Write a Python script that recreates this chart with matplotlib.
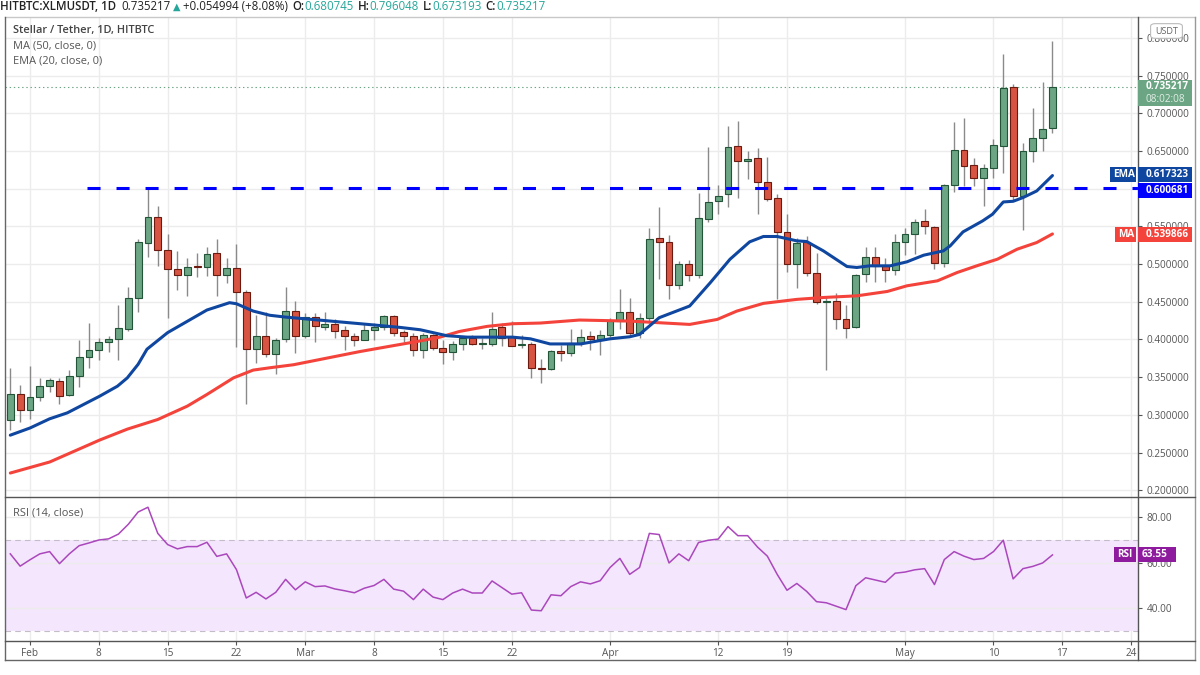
import matplotlib
matplotlib.use('Agg')
import matplotlib.pyplot as plt
import numpy as np
import pandas as pd
from matplotlib.patches import Rectangle, FancyBboxPatch
from matplotlib.lines import Line2D

plt.rcParams['font.family'] = ['Open Sans', 'DejaVu Sans']
plt.rcParams['lines.scale_dashes'] = False

# ---------------- data ----------------
start_date = pd.Timestamp('2021-01-30')
dates = pd.date_range(start_date, periods=107, freq='D')

opens = [0.293, 0.328, 0.307, 0.323, 0.338, 0.345, 0.326, 0.351, 0.377, 0.386,
         0.397, 0.401, 0.414, 0.455, 0.528, 0.563, 0.518, 0.494, 0.486, 0.4968,
         0.496, 0.515, 0.486, 0.495, 0.463, 0.387, 0.404, 0.380, 0.4004, 0.4376,
         0.4049, 0.430, 0.4164, 0.420, 0.412, 0.4049, 0.3996, 0.412, 0.4164, 0.4305,
         0.4093, 0.4049, 0.3863, 0.4058, 0.3885, 0.3827, 0.3942, 0.4018, 0.394, 0.3942,
         0.4164, 0.4031, 0.3925, 0.3942, 0.3622, 0.361, 0.384, 0.3814, 0.3956, 0.4044,
         0.4009, 0.4053, 0.4243, 0.4367, 0.4088, 0.4288, 0.5351, 0.5294, 0.4727, 0.5006,
         0.4855, 0.5595, 0.5839, 0.5927, 0.6566, 0.6362, 0.6406, 0.6083, 0.587, 0.5418,
         0.4997, 0.5294, 0.4886, 0.4496, 0.4512, 0.4267, 0.4159, 0.4865, 0.5095, 0.4976,
         0.4923, 0.5298, 0.5395, 0.5572, 0.5497, 0.502, 0.6044, 0.6508, 0.6309, 0.6146,
         0.6278, 0.6565, 0.7347, 0.5903, 0.6499, 0.6675, 0.680745]
highs = [0.362, 0.339, 0.365, 0.349, 0.349, 0.349, 0.360, 0.399, 0.422, 0.402,
         0.405, 0.445, 0.4695, 0.5336, 0.600, 0.577, 0.540, 0.517, 0.508, 0.515,
         0.5226, 0.533, 0.5075, 0.526, 0.465, 0.433, 0.437, 0.402, 0.4695, 0.4504,
         0.435, 0.435, 0.437, 0.427, 0.4173, 0.4084, 0.421, 0.4217, 0.433, 0.432,
         0.4128, 0.408, 0.408, 0.4075, 0.3996, 0.398, 0.4049, 0.4062, 0.4018, 0.437,
         0.4217, 0.425, 0.406, 0.397, 0.3734, 0.3858, 0.393, 0.4133, 0.4133, 0.411,
         0.413, 0.4288, 0.4673, 0.4554, 0.4354, 0.5484, 0.5759, 0.5382, 0.5041, 0.5054,
         0.5936, 0.6548, 0.6047, 0.6827, 0.6894, 0.6495, 0.6535, 0.6424, 0.5927, 0.5662,
         0.5351, 0.5374, 0.5152, 0.4578, 0.4611, 0.4455, 0.4865, 0.5232, 0.5219, 0.5086,
         0.5395, 0.5475, 0.5594, 0.5735, 0.5506, 0.6057, 0.6887, 0.6932, 0.641, 0.6322,
         0.6653, 0.7779, 0.7382, 0.66, 0.7073, 0.7417, 0.796048]
lows = [0.280, 0.290, 0.294, 0.318, 0.330, 0.314, 0.325, 0.337, 0.362, 0.373,
        0.383, 0.373, 0.411, 0.436, 0.509, 0.497, 0.429, 0.466, 0.4575, 0.483,
        0.484, 0.458, 0.475, 0.390, 0.315, 0.369, 0.3765, 0.3544, 0.397, 0.3818,
        0.4018, 0.397, 0.412, 0.4018, 0.3854, 0.3916, 0.3996, 0.3996, 0.4128, 0.404,
        0.396, 0.3774, 0.3752, 0.3863, 0.3677, 0.373, 0.3863, 0.3929, 0.387, 0.3916,
        0.3916, 0.3907, 0.3885, 0.349, 0.3416, 0.360, 0.371, 0.3778, 0.391, 0.3866,
        0.3787, 0.403, 0.4132, 0.4053, 0.4022, 0.4221, 0.4797, 0.4531, 0.4664, 0.4775,
        0.4819, 0.5551, 0.5662, 0.575, 0.587, 0.6127, 0.5662, 0.583, 0.4531, 0.4895,
        0.4687, 0.4842, 0.4465, 0.359, 0.4132, 0.4022, 0.415, 0.4755, 0.4755, 0.4755,
        0.4852, 0.5117, 0.5130, 0.5395, 0.494, 0.4954, 0.5956, 0.6035, 0.6035, 0.577,
        0.6146, 0.6203, 0.5837, 0.5453, 0.6353, 0.6499, 0.673193]
closes = [0.328, 0.307, 0.323, 0.338, 0.3456, 0.3256, 0.352, 0.377, 0.386, 0.397,
          0.401, 0.415, 0.455, 0.529, 0.563, 0.518, 0.494, 0.486, 0.4956, 0.4962,
          0.513, 0.486, 0.495, 0.463, 0.387, 0.404, 0.380, 0.3996, 0.4376, 0.4049,
          0.4292, 0.4173, 0.420, 0.4106, 0.4049, 0.3996, 0.412, 0.4168, 0.4305, 0.4084,
          0.404, 0.3863, 0.4058, 0.3885, 0.3827, 0.3942, 0.4018, 0.3942, 0.3952, 0.4137,
          0.4018, 0.3916, 0.3938, 0.362, 0.3612, 0.3845, 0.3814, 0.3956, 0.4035, 0.4009,
          0.4055, 0.4243, 0.4367, 0.4088, 0.4288, 0.5338, 0.5294, 0.4727, 0.5006, 0.4855,
          0.5604, 0.5826, 0.5905, 0.6557, 0.6362, 0.6393, 0.6083, 0.5861, 0.5427, 0.4997,
          0.5285, 0.4886, 0.4496, 0.4515, 0.4267, 0.4157, 0.4857, 0.5095, 0.4976, 0.4923,
          0.5294, 0.5395, 0.5563, 0.5506, 0.502, 0.6044, 0.6508, 0.630, 0.6146, 0.6278,
          0.6578, 0.7338, 0.5903, 0.6499, 0.6675, 0.6795, 0.735217]

# EMA(20) line (candle index, value)
ema_x = [0, 2, 4, 5.8, 9.1, 10.9, 11.9, 13, 13.9, 16, 18, 20, 22.3, 23, 24.7, 26.4, 28,
         35.6, 39.6, 41.7, 44.4, 46.5, 51.1, 52.9, 54.9, 58, 61, 63, 64, 66, 69.1,
         71.2, 73.2, 75.2, 76.6, 78, 80, 81, 82.7, 85.1, 86.1, 87.4, 89.5, 91.2, 92.9,
         94.9, 95.6, 96.9, 98.9, 99.9, 101, 102, 103, 104.4, 106]
ema_y = [0.273, 0.2825, 0.2947, 0.3026, 0.3248, 0.338, 0.349, 0.367, 0.387, 0.409,
         0.424, 0.439, 0.4487, 0.4473, 0.4376, 0.432, 0.4296, 0.4208, 0.416, 0.4128,
         0.4049, 0.403, 0.403, 0.4008, 0.394, 0.394, 0.4008, 0.4035, 0.4066, 0.4288,
         0.4443, 0.4753, 0.5063, 0.5294, 0.5365, 0.5365, 0.5307, 0.5298, 0.5174,
         0.4967, 0.4954, 0.4976, 0.4976, 0.5029, 0.5117, 0.5174, 0.5241, 0.5426,
         0.5572, 0.566, 0.5823, 0.5832, 0.5881, 0.5969, 0.617323]
# MA(50) line
ma_x = [0, 4, 9.1, 11.9, 15, 18, 20, 22.7, 24.7, 26.4, 28.8, 32.2, 35.6, 38.9, 41.4,
        43.7, 45.7, 48.5, 51.1, 53.9, 57.9, 63, 69.1, 71.9, 73.9, 76.6, 80, 82.7,
        86.1, 89.2, 91.2, 94.3, 96.3, 98.3, 100.4, 102.4, 104.4, 106]
ma_y = [0.2228, 0.2374, 0.2666, 0.281, 0.2938, 0.3115, 0.327, 0.349, 0.3593, 0.3624,
        0.3664, 0.3752, 0.384, 0.3916, 0.3973, 0.403, 0.4106, 0.4173, 0.4208, 0.4217,
        0.4257, 0.4243, 0.4199, 0.4265, 0.4376, 0.4478, 0.4531, 0.4556, 0.4578,
        0.4636, 0.4711, 0.4777, 0.4887, 0.4976, 0.5064, 0.5196, 0.5285, 0.539866]

rsi = [64.0, 58.6, 61.4, 64.0, 65.0, 59.7, 64.0, 67.6, 68.8, 70.1, 70.6, 72.7, 77.0,
       82.4, 84.5, 73.0, 68.1, 66.2, 67.2, 67.2, 69.1, 62.9, 64.0, 57.1, 44.6, 47.1,
       44.2, 47.1, 52.8, 48.2, 51.7, 49.6, 49.9, 48.6, 47.8, 46.9, 48.9, 50.1, 52.8,
       48.5, 47.6, 43.9, 48.5, 45.0, 43.9, 46.8, 48.5, 46.8, 46.8, 52.1, 49.2, 46.3,
       46.9, 39.3, 39.0, 46.0, 45.6, 49.6, 51.7, 50.8, 52.2,
       58, 62, 55, 58, 73, 72.5, 60, 64, 61, 69, 70, 70.5, 76, 72, 72, 67, 63, 55, 48,
       51, 47.5, 43, 42.5, 41, 39.5, 50, 53.5, 52.5, 51.5, 55.5, 56, 57, 57.5, 50.5,
       61.5, 65, 63, 61.5, 62, 65, 70, 53, 57.5, 58.5, 60, 63.55]

support_level = 0.600681
last_price = 0.735217
ema_last = 0.617323
ma_last = 0.539866
rsi_last = 63.55

tick_dates = ['2021-02-01', '2021-02-08', '2021-02-15', '2021-02-22', '2021-03-01',
              '2021-03-08', '2021-03-15', '2021-03-22', '2021-04-01', '2021-04-12',
              '2021-04-19', '2021-05-01', '2021-05-10', '2021-05-17', '2021-05-24']
tick_labels = ['Feb', '8', '15', '22', 'Mar', '8', '15', '22', 'Apr', '12', '19',
               'May', '10', '17', '24']
price_ticks = [0.20, 0.25, 0.30, 0.35, 0.40, 0.45, 0.50, 0.55, 0.60, 0.65, 0.70, 0.75, 0.80]
rsi_ticks = [40, 60, 80]

# ---------------- layout helpers ----------------
W, H = 1200, 675
fig = plt.figure(figsize=(12, 6.75), dpi=100)
fig.patch.set_facecolor('white')


def fx(x):
    return x / W


def fy(y):
    return 1 - y / H


L, R = 5, 1138
T, MID, BOT, XB = 17, 497, 641, 660

ax = fig.add_axes([fx(L), fy(MID), (R - L) / W, (MID - T) / H])
ax2 = fig.add_axes([fx(L), fy(BOT), (R - L) / W, (BOT - MID) / H], sharex=ax)

x = np.arange(len(closes))
o = np.array(opens); c = np.array(closes); h = np.array(highs); lo = np.array(lows)
up = c >= o

GREEN_F, GREEN_E = '#6ba583', '#225437'
RED_F, RED_E = '#d75442', '#6b1a10'
WICK = '#8a8a8a'
GRID = '#ececec'
TXT = '#555555'

ax.set_xlim(-0.54, 114.7)
ax.set_ylim(0.1910, 0.8276)
ax2.set_ylim(25.7, 89.0)

tick_pos = [(pd.Timestamp(d) - start_date).days for d in tick_dates]

for a in (ax, ax2):
    for s in a.spines.values():
        s.set_visible(False)
    a.set_facecolor('white')
    for tp in tick_pos:
        a.axvline(tp, color=GRID, lw=1.0, zorder=0)

for p in price_ticks:
    ax.axhline(p, color=GRID, lw=1.0, zorder=0)
for r in rsi_ticks:
    ax2.axhline(r, color=GRID, lw=1.0, zorder=0.5)

# candles
ax.vlines(x, lo, h, color=WICK, lw=1.0, zorder=2)
body_lo = np.minimum(o, c)
body_h = np.maximum(np.abs(c - o), 0.0008)
ax.bar(x[up], body_h[up], bottom=body_lo[up], width=0.7, color=GREEN_F,
       edgecolor=GREEN_E, linewidth=0.8, zorder=3)
ax.bar(x[~up], body_h[~up], bottom=body_lo[~up], width=0.7, color=RED_F,
       edgecolor=RED_E, linewidth=0.8, zorder=3)

# moving averages
ax.plot(ma_x, ma_y, color='#f4433b', lw=2.2, zorder=4, solid_capstyle='round',
        solid_joinstyle='round')
ax.plot(ema_x, ema_y, color='#0f47a0', lw=2.2, zorder=4, solid_capstyle='round',
        solid_joinstyle='round')

# support line
ax.hlines(support_level, 7.8, 114.7, color='#0000ff', lw=2.2,
          linestyles=[(0, (9.4, 11.5))], zorder=4)
# last price dotted line
ax.axhline(last_price, color='#6ba583', lw=0.8, ls=(0, (1, 2)), zorder=1)

# price axis ticks
ax.yaxis.tick_right()
ax.set_yticks(price_ticks)
ax.set_yticklabels([f'{p:.6f}' for p in price_ticks])
ax.tick_params(axis='y', direction='out', length=3, width=0.8, pad=3,
               colors=TXT, labelsize=7.2)
ax.tick_params(axis='x', bottom=False, labelbottom=False)

# RSI panel
ax2.axhspan(30, 70, color='#f3e6fd', zorder=0.2, lw=0)
ax2.axhline(70, color='#c4bcc8', lw=0.8, ls=(0, (4, 3)), zorder=1)
ax2.axhline(30, color='#c4bcc8', lw=0.8, ls=(0, (4, 3)), zorder=1)
ax2.plot(x, rsi, color='#ab47bc', lw=1.1, zorder=3)
ax2.yaxis.tick_right()
ax2.set_yticks(rsi_ticks)
ax2.set_yticklabels([f'{r:.2f}' for r in rsi_ticks])
ax2.tick_params(axis='y', direction='out', length=3, width=0.8, pad=3,
                colors=TXT, labelsize=7.2)
ax2.set_xticks(tick_pos)
ax2.set_xticklabels(tick_labels)
ax2.tick_params(axis='x', direction='out', length=3, width=0.8, pad=2,
                colors=TXT, labelsize=7.2)

# frame lines
def fline(x0, y0, x1, y1, color='#666666', lw=1.0):
    fig.add_artist(Line2D([fx(x0), fx(x1)], [fy(y0), fy(y1)], color=color, lw=lw,
                          transform=fig.transFigure, zorder=10))

fline(L, T, 1195, T, color='#c8c8c8')
fline(L, T, L, XB)
fline(1195, T, 1195, XB, color='#999999')
fline(L, XB, 1195, XB)
fline(R, T, R, XB, color='#555555')
fline(L, MID, 1195, MID, color='#555555')
fline(L, BOT, 1195, BOT, color='#555555')


# value tags on the price axis
def tag(x0, x1, yc, hgt, color, text, tx, fs=7.2, tcolor='white', weight='bold'):
    fig.add_artist(Rectangle((fx(x0), fy(yc + hgt / 2)), (x1 - x0) / W, hgt / H,
                             transform=fig.transFigure, facecolor=color,
                             edgecolor='none', zorder=11))
    fig.text(fx(tx), fy(yc), text, color=tcolor, fontsize=fs, va='center',
             ha='left', zorder=12, fontweight=weight)


fig.canvas.draw()
renderer = fig.canvas.get_renderer()


def px_y_price(p):
    return H - ax.transData.transform((0, p))[1]


y_last = px_y_price(last_price)
y_ema = px_y_price(ema_last)
y_sup = px_y_price(support_level)
y_ma = px_y_price(ma_last)
y_rsi = H - ax2.transData.transform((0, rsi_last))[1]

# last price box with countdown
fig.add_artist(Rectangle((fx(R), fy(y_last + 19)), 54 / W, 26 / H, transform=fig.transFigure,
                         facecolor='#6ba583', edgecolor='none', zorder=11))
fig.text(fx(1146), fy(y_last), f'{last_price:.6f}', color='white', fontsize=7.2,
         va='center', ha='left', zorder=12, fontweight='bold')
fig.text(fx(1146), fy(y_last + 13), '08:02:08', color='#e2efe6', fontsize=7.2,
         va='center', ha='left', zorder=12)

tag(1110, R - 2, y_ema - 1, 15, '#0f47a0', 'EMA', 1113)
tag(R, 1192, y_ema - 1, 15, '#0f47a0', f'{ema_last:.6f}', 1146)
tag(R, 1192, y_sup + 2, 15, '#0000ff', f'{support_level:.6f}', 1146)
tag(1115, R - 2, y_ma + 1, 15, '#f4433b', 'MA', 1118)
tag(R, 1192, y_ma + 1, 15, '#f4433b', f'{ma_last:.6f}', 1146)
tag(1114, R - 2, y_rsi, 15, '#8e1a9e', 'RSI', 1117)
tag(R, 1176, y_rsi, 15, '#8e1a9e', f'{rsi_last:.2f}', 1142)

# USDT currency badge
fig.add_artist(FancyBboxPatch((fx(1153), fy(37)), 27 / W, 12 / H,
                              boxstyle='round,pad=0.002,rounding_size=0.004',
                              transform=fig.transFigure, facecolor='white',
                              edgecolor='#bbbbbb', lw=0.8, zorder=11))
fig.text(fx(1166.5), fy(31), 'USDT', color='#666666', fontsize=6.5, va='center',
         ha='center', zorder=12)

# legend texts
fig.text(fx(13), fy(31), 'Stellar / Tether, 1D, HITBTC', color='#444444', fontsize=7.9,
         va='center', ha='left', fontweight='semibold')
fig.text(fx(13), fy(46.5), 'MA (50, close, 0)', color=TXT, fontsize=7.9, va='center', ha='left')
fig.text(fx(13), fy(61), 'EMA (20, close, 0)', color=TXT, fontsize=7.9, va='center', ha='left')
fig.text(fx(13), fy(513), 'RSI (14, close)', color=TXT, fontsize=7.9, va='center', ha='left')

# header line, laid out piece by piece
TEAL = '#26a69a'
DARK = '#222222'
hy = 7
header = [('HITBTC:XLMUSDT, 1D', DARK, 'semibold', 5),
          ('0.735217', DARK, 'normal', 3),
          ('▲', TEAL, 'normal', 2),
          ('+0.054994 (+8.08%)', DARK, 'normal', 5),
          ('O:', DARK, 'semibold', 0), ('0.680745', TEAL, 'normal', 4),
          ('H:', DARK, 'semibold', 0), ('0.796048', TEAL, 'normal', 4),
          ('L:', DARK, 'semibold', 0), ('0.673193', TEAL, 'normal', 4),
          ('C:', DARK, 'semibold', 0), ('0.735217', TEAL, 'normal', 0)]
cur = 0.0
for txt_, col_, w_, gap_ in header:
    kw = dict(color=col_, fontsize=8.3, va='center', ha='left', fontweight=w_)
    if txt_ == '▲':
        kw['family'] = ['DejaVu Sans']
        kw['fontsize'] = 7
    t = fig.text(fx(cur), fy(hy), txt_, **kw)
    wpx = t.get_window_extent(renderer=renderer).width
    cur += wpx + gap_

fig.savefig('out.png', dpi=100, facecolor='white')
